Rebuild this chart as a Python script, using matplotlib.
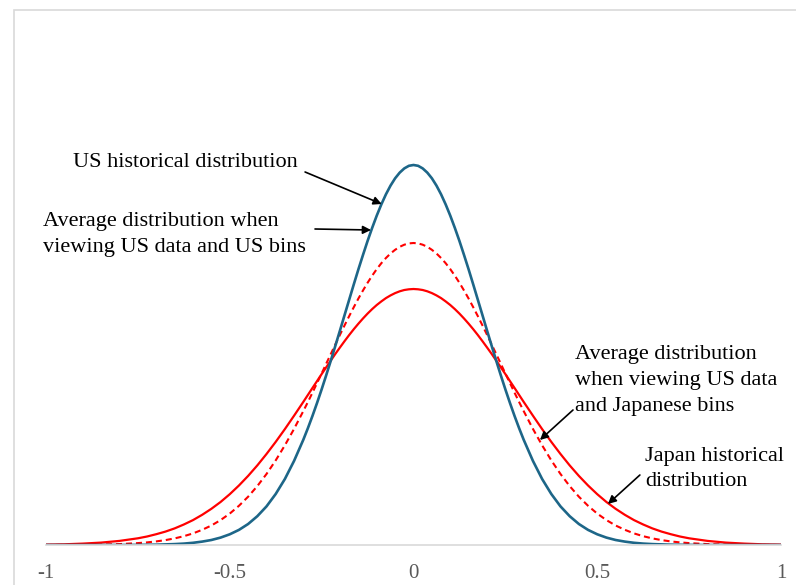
import matplotlib
matplotlib.use("Agg")
import matplotlib.pyplot as plt
from matplotlib.patches import Rectangle

plt.rcParams['font.family'] = ['Liberation Serif', 'DejaVu Serif']

# x positions (value of the variable), left to right
x = [-1.0, -0.95, -0.9, -0.85, -0.8,
     -0.75, -0.725, -0.7, -0.675, -0.65, -0.625, -0.6, -0.575, -0.55, -0.525,
     -0.5, -0.475, -0.45, -0.425, -0.4, -0.375, -0.35, -0.325,
     -0.3, -0.2875, -0.275, -0.2625, -0.25, -0.2375, -0.225, -0.2125,
     -0.2, -0.1875, -0.175, -0.1625, -0.15, -0.1375, -0.125, -0.1125,
     -0.1, -0.0875, -0.075, -0.0625, -0.05, -0.0375, -0.025, -0.0125,
     0.0,
     0.0125, 0.025, 0.0375, 0.05, 0.0625, 0.075, 0.0875, 0.1,
     0.1125, 0.125, 0.1375, 0.15, 0.1625, 0.175, 0.1875, 0.2,
     0.2125, 0.225, 0.2375, 0.25, 0.2625, 0.275, 0.2875, 0.3,
     0.325, 0.35, 0.375, 0.4, 0.425, 0.45, 0.475, 0.5,
     0.525, 0.55, 0.575, 0.6, 0.625, 0.65, 0.675, 0.7, 0.725, 0.75,
     0.8, 0.85, 0.9, 0.95, 1.0]

# US historical distribution (blue)
us_hist = [0.000, 0.000, 0.000, 0.000, 0.000,
           0.001, 0.002, 0.003, 0.006, 0.009, 0.014, 0.022, 0.034, 0.050, 0.074,
           0.107, 0.151, 0.210, 0.288, 0.386, 0.510, 0.660, 0.841,
           1.051, 1.167, 1.290, 1.420, 1.556, 1.698, 1.844, 1.994,
           2.146, 2.300, 2.453, 2.606, 2.756, 2.900, 3.040, 3.171,
           3.294, 3.406, 3.507, 3.594, 3.667, 3.724, 3.766, 3.792,
           3.800,
           3.792, 3.766, 3.724, 3.667, 3.594, 3.507, 3.406, 3.294,
           3.171, 3.040, 2.900, 2.756, 2.606, 2.453, 2.300, 2.146,
           1.994, 1.844, 1.698, 1.556, 1.420, 1.290, 1.167, 1.051,
           0.841, 0.660, 0.510, 0.386, 0.288, 0.210, 0.151, 0.107,
           0.074, 0.050, 0.034, 0.022, 0.014, 0.009, 0.006, 0.003, 0.002, 0.001,
           0.000, 0.000, 0.000, 0.000, 0.000]

# Average distribution when viewing US data and US bins (red dashed)
us_bins_avg = [0.000, 0.001, 0.002, 0.004, 0.009,
               0.019, 0.026, 0.036, 0.049, 0.066, 0.088, 0.116, 0.152, 0.195, 0.249,
               0.314, 0.392, 0.483, 0.589, 0.710, 0.846, 0.997, 1.161,
               1.338, 1.429, 1.523, 1.619, 1.715, 1.813, 1.910, 2.007,
               2.103, 2.197, 2.289, 2.378, 2.464, 2.545, 2.622, 2.693,
               2.759, 2.818, 2.870, 2.915, 2.952, 2.982, 3.003, 3.016,
               3.020,
               3.016, 3.003, 2.982, 2.952, 2.915, 2.870, 2.818, 2.759,
               2.693, 2.622, 2.545, 2.464, 2.378, 2.289, 2.197, 2.103,
               2.007, 1.910, 1.813, 1.715, 1.619, 1.523, 1.429, 1.338,
               1.161, 0.997, 0.846, 0.710, 0.589, 0.483, 0.392, 0.314,
               0.249, 0.195, 0.152, 0.116, 0.088, 0.066, 0.049, 0.036, 0.026, 0.019,
               0.009, 0.004, 0.002, 0.001, 0.000]

# Japan historical distribution (red solid)
japan_hist = [0.004, 0.007, 0.014, 0.024, 0.041,
              0.067, 0.085, 0.108, 0.134, 0.166, 0.205, 0.249, 0.302, 0.362, 0.430,
              0.508, 0.595, 0.691, 0.796, 0.910, 1.031, 1.159, 1.293,
              1.430, 1.500, 1.570, 1.639, 1.709, 1.777, 1.845, 1.912,
              1.976, 2.039, 2.100, 2.158, 2.213, 2.265, 2.314, 2.359,
              2.400, 2.436, 2.469, 2.496, 2.519, 2.537, 2.550, 2.557,
              2.560,
              2.557, 2.550, 2.537, 2.519, 2.496, 2.469, 2.436, 2.400,
              2.359, 2.314, 2.265, 2.213, 2.158, 2.100, 2.039, 1.976,
              1.912, 1.845, 1.777, 1.709, 1.639, 1.570, 1.500, 1.430,
              1.293, 1.159, 1.031, 0.910, 0.796, 0.691, 0.595, 0.508,
              0.430, 0.362, 0.302, 0.249, 0.205, 0.166, 0.134, 0.108, 0.085, 0.067,
              0.041, 0.024, 0.014, 0.007, 0.004]

xticks = [-1, -0.5, 0, 0.5, 1]
xtick_labels = ["-1", "-0.5", "0", "0.5", "1"]

BLUE = "#1d6688"
RED = "#ff0000"

fig = plt.figure(figsize=(7.96, 5.85), dpi=100)
# outer chart frame (partially cropped)
fig.patches.append(Rectangle((13.5 / 796, -0.2), 1.2, 1.2 - 9.5 / 585,
                             transform=fig.transFigure, fill=False,
                             edgecolor="#d9d9d9", linewidth=1.2))

ax = fig.add_axes([46 / 796, 40 / 585, 735 / 796, 535 / 585])
ax.set_xlim(-1, 1)
ax.set_ylim(0, 5.35)

ax.plot(x, japan_hist, color=RED, lw=1.6, solid_capstyle='round')
ax.plot(x, us_bins_avg, color=RED, lw=1.5, dashes=(2.9, 1.9))
ax.plot(x, us_hist, color=BLUE, lw=1.9, solid_capstyle='round')

for s in ["top", "left", "right"]:
    ax.spines[s].set_visible(False)
ax.spines["bottom"].set_color("#d9d9d9")
ax.spines["bottom"].set_linewidth(1.2)
ax.set_yticks([])
ax.set_xticks(xticks)
ax.set_xticklabels(xtick_labels)
ax.tick_params(axis='x', length=0, pad=14, labelsize=15, labelcolor="#595959")

tfs = 16
ax.text(-0.927, 3.82, "US historical distribution", fontsize=tfs, ha='left', va='center')
ax.text(-1.007, 3.10, "Average distribution when\nviewing US data and US bins",
        fontsize=tfs, ha='left', va='center', linespacing=1.5)
ax.text(0.4395, 1.65, "Average distribution\nwhen viewing US data\nand Japanese bins",
        fontsize=tfs, ha='left', va='center', linespacing=1.5)
ax.text(0.630, 0.76, "Japan historical\ndistribution", fontsize=tfs,
        ha='left', va='center', linespacing=1.5)

ap = dict(arrowstyle='-|>', color='black', lw=1.2, mutation_scale=12,
          shrinkA=0, shrinkB=0)
ax.annotate('', xy=(-0.0865, 3.41), xytext=(-0.295, 3.73), arrowprops=ap)
ax.annotate('', xy=(-0.1156, 3.15), xytext=(-0.268, 3.16), arrowprops=ap)
ax.annotate('', xy=(0.344, 1.05), xytext=(0.434, 1.35), arrowprops=ap)
ax.annotate('', xy=(0.529, 0.41), xytext=(0.616, 0.70), arrowprops=ap)

fig.savefig("out.png", dpi=100)
